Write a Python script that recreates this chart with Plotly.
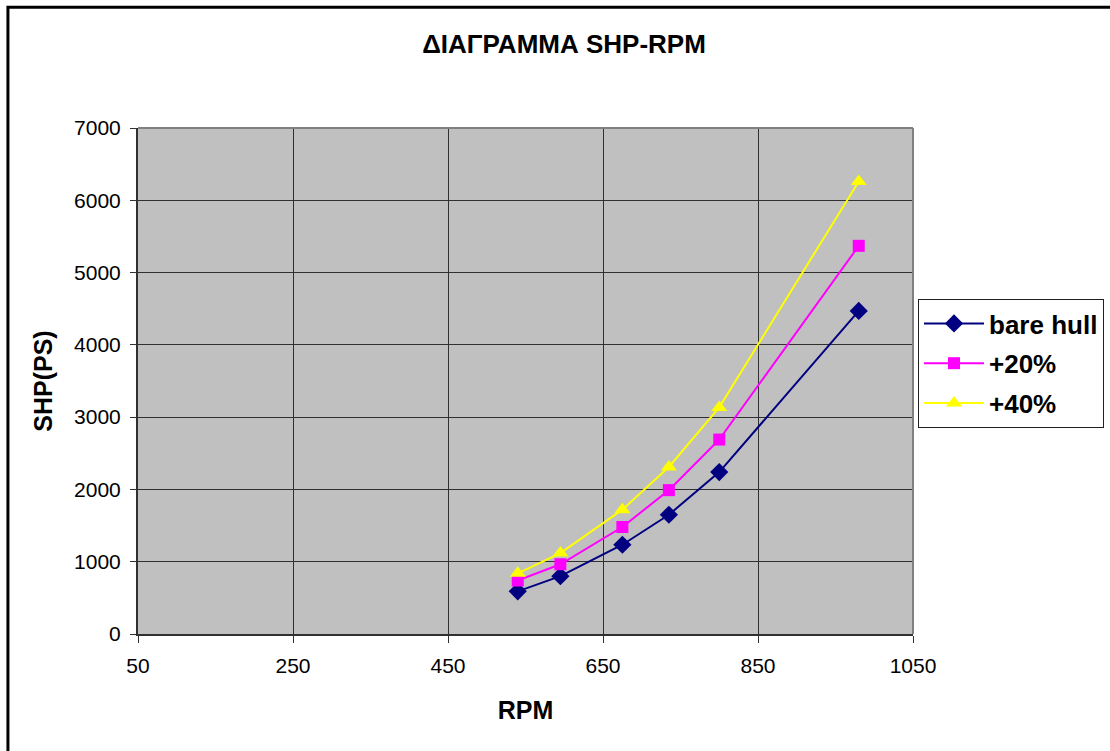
import plotly.graph_objects as go

rpm = [540, 595, 675, 735, 800, 980]
bare_hull = [590, 800, 1235, 1650, 2240, 4470]
plus20 = [740, 965, 1480, 1990, 2690, 5370]
plus40 = [840, 1120, 1720, 2310, 3135, 6260]

x_ticks = [50, 250, 450, 650, 850, 1050]
y_ticks = [0, 1000, 2000, 3000, 4000, 5000, 6000, 7000]

FONT = "Liberation Sans, Arial, sans-serif"

fig = go.Figure()
series = [
    ("bare hull", bare_hull, "#000080", "diamond", 14),
    ("+20%", plus20, "#FF00FF", "square", 12),
    ("+40%", plus40, "#FFFF00", "triangle-up", 14),
]
for i, (name, vals, col, sym, sz) in enumerate(series):
    fig.add_trace(go.Scatter(
        x=rpm, y=vals, name=name, mode="lines+markers",
        line=dict(color=col, width=2),
        marker=dict(symbol=sym, size=sz, color=col, line=dict(width=0)),
        legendgroup=f"g{i}",
    ))

W, H = 1110, 751
L, R, T, B = 137.7, 913.5, 128.3, 634.3

fig.update_layout(
    width=W, height=H,
    margin=dict(l=L, r=W - R, t=T, b=H - B, pad=0, autoexpand=False),
    paper_bgcolor="white",
    plot_bgcolor="#C0C0C0",
    font=dict(family=FONT, color="black"),
    title=dict(text="<b>ΔΙΑΓΡΑΜΜΑ SHP-RPM</b>", x=564 / W, xref="container",
               y=1 - 44 / H, yref="container", xanchor="center", yanchor="middle",
               font=dict(size=26, family=FONT, color="black")),
    xaxis=dict(
        range=[50, 1050], tickvals=x_ticks, ticktext=[str(v) for v in x_ticks],
        showgrid=True, gridcolor="#303030", gridwidth=1,
        showline=True, linecolor="#303030", linewidth=2,
        ticks="outside", ticklen=7, tickcolor="#303030", tickwidth=1,
        tickfont=dict(size=21, family=FONT), ticklabelstandoff=5,
        zeroline=False,
        title=dict(text="<b>RPM</b>", font=dict(size=25, family=FONT), standoff=25),
    ),
    yaxis=dict(
        range=[0, 7000], tickvals=y_ticks, ticktext=[str(v) for v in y_ticks],
        showgrid=True, gridcolor="#303030", gridwidth=1,
        showline=True, linecolor="#303030", linewidth=2,
        ticks="outside", ticklen=6, tickcolor="#303030", tickwidth=1,
        tickfont=dict(size=21, family=FONT), ticklabelstandoff=5,
        zeroline=False,
        title=dict(text="<b>SHP(PS)</b>", font=dict(size=25, family=FONT), standoff=14),
    ),
    legend=dict(
        xref="container", yref="container",
        x=918 / W, y=1 - 299 / H, xanchor="left", yanchor="top",
        bgcolor="white", bordercolor="#202020", borderwidth=1,
        font=dict(size=26, family=FONT, color="black", weight="bold"),
        tracegroupgap=3, itemwidth=60,
    ),
    showlegend=True,
)

# plot-area top/right border
fig.add_shape(type="line", xref="paper", yref="paper", x0=0, x1=1, y0=1, y1=1,
              line=dict(color="#808080", width=2))
fig.add_shape(type="line", xref="paper", yref="paper", x0=1, x1=1, y0=0, y1=1,
              line=dict(color="#808080", width=2))

# chart outer border (left/top visible, right/bottom beyond the page)
pw, ph = R - L, B - T
fig.add_shape(type="rect", xref="paper", yref="paper",
              x0=(7.5 - L) / pw, x1=(1120 - L) / pw,
              y0=-(770 - B) / ph, y1=(B - 7.5) / ph,
              line=dict(color="black", width=3), fillcolor="rgba(0,0,0,0)")

fig.write_html("out.html")
